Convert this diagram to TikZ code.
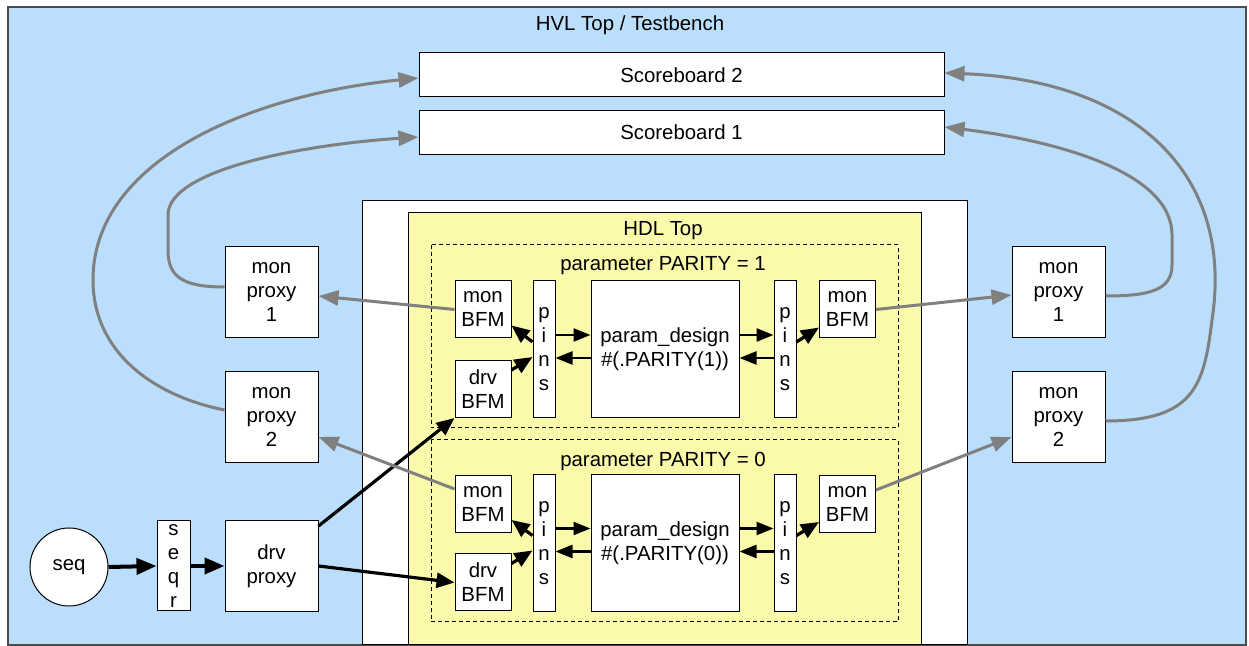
\documentclass[tikz,border=0pt]{standalone}
\usepackage{fontspec}
\setmainfont{Liberation Sans}
\usetikzlibrary{
  arrows.meta,
  positioning
}
\definecolor{hvlblue}{RGB}{186,222,252}
\definecolor{hdlyellow}{RGB}{250,250,170}
\definecolor{mongray}{RGB}{128,128,128}

\begin{document}
\begin{tikzpicture}[
  x=0.5pt,
  y=-0.5pt,
  font=\fontsize{10.2}{12}\selectfont,
  region/.style={
    draw=black!70,
    line width=0.75pt
  },
  compbox/.style={
    draw,
    line width=0.5pt,
    fill=white,
    align=center,
    inner sep=0pt
  },
  board/.style={
    compbox,
    minimum width=262.5pt,
    minimum height=22pt
  },
  proxy/.style={
    compbox,
    minimum width=46.5pt,
    minimum height=45.5pt
  },
  bfm/.style={
    compbox,
    minimum width=28pt,
    minimum height=28.5pt
  },
  pinbox/.style={
    compbox,
    minimum width=11pt,
    minimum height=68.5pt
  },
  design/.style={
    compbox,
    minimum width=74pt,
    minimum height=68.5pt
  },
  dashbox/.style={
    draw,
    line width=0.5pt,
    dash pattern=on 2pt off 1.5pt
  },
  sigarrow/.style={
    -{Triangle[length=8.5pt,width=6.5pt]},
    line width=1.2pt
  },
  drvarrow/.style={
    -{Triangle[length=9pt,width=7.5pt]},
    line width=1.6pt
  },
  seqarrow/.style={
    -{Triangle[length=10pt,width=8pt]},
    line width=2pt
  },
  monarrow/.style={
    -{Triangle[length=10pt,width=7.5pt]},
    line width=1.5pt,
    mongray
  }
]
\useasboundingbox (0,0) rectangle (1249,646);

% --- nested regions ---
\draw[region,fill=hvlblue] (8,7) rectangle (1246,645);
\draw[line width=0.5pt,fill=white] (362,201) rectangle (967,645);
\draw[line width=0.5pt,fill=hdlyellow] (408,213) rectangle (921,645);
\draw[dashbox] (431,245) rectangle (898,428);
\draw[dashbox] (431,440) rectangle (898,622);

\node (hvltitle) at (630,25) {HVL Top / Testbench};
\node (hdltitle) at (663,231) {HDL Top};
\node (par1title) at (663,266) {parameter PARITY = 1};
\node (par0title) at (663,461) {parameter PARITY = 0};

% --- scoreboards ---
\node[board] (sb2) at (681.5,75) {Scoreboard 2};
\node[board] (sb1) at (681.5,132.5) {Scoreboard 1};

% --- HVL side components ---
\node[circle,draw,fill=white,line width=0.5pt,minimum size=39pt,inner sep=0pt]
  (seq) at (69,567) {seq};
\node[compbox,minimum width=16.5pt,minimum height=45pt] (seqr) at (173.5,566)
  {s\\e\\q\\r};
\node[proxy] (drvproxy) at (271.5,566) {drv\\proxy};
\node[proxy] (monproxyL1) at (271.5,292.5) {mon\\proxy\\1};
\node[proxy] (monproxyL2) at (271.5,417.5) {mon\\proxy\\2};
\node[proxy] (monproxyR1) at (1058.5,292.5) {mon\\proxy\\1};
\node[proxy] (monproxyR2) at (1058.5,417.5) {mon\\proxy\\2};

% --- PARITY = 1 instance ---
\node[design] (design1) at (665,349.5) {param\_design\\\#(.PARITY(1))};
\node[pinbox,left=17.5pt of design1] (pinsL1) {p\\i\\n\\s};
\node[pinbox,right=17pt of design1] (pinsR1) {p\\i\\n\\s};
\node[bfm] (monbfmL1) at (483,309.5) {mon\\BFM};
\node[bfm] (drvbfm1) at (483,389) {drv\\BFM};
\node[bfm] (monbfmR1) at (847.5,309.5) {mon\\BFM};

% --- PARITY = 0 instance ---
\node[design] (design2) at (665,543) {param\_design\\\#(.PARITY(0))};
\node[pinbox,left=17.5pt of design2] (pinsL2) {p\\i\\n\\s};
\node[pinbox,right=17pt of design2] (pinsR2) {p\\i\\n\\s};
\node[bfm] (monbfmL2) at (483,504) {mon\\BFM};
\node[bfm] (drvbfm2) at (483,582.5) {drv\\BFM};
\node[bfm] (monbfmR2) at (847.5,504) {mon\\BFM};

% --- stimulus path ---
\draw[seqarrow] (seq.east) -- (seqr.west);
\draw[seqarrow] (seqr.east) -- (drvproxy.west);
\draw[drvarrow] ([yshift=-3pt]drvproxy.north east) -- (drvbfm1.south west);
\draw[drvarrow] (drvproxy.east) -- (drvbfm2.west);

% --- pin level signals, PARITY = 1 ---
\draw[drvarrow] ([yshift=3.75pt]pinsL1.west) -- ([yshift=6.5pt]monbfmL1.south east);
\draw[drvarrow] ([yshift=-5pt]drvbfm1.north east) -- ([yshift=-3.75pt]pinsL1.west);
\draw[sigarrow] ([yshift=7.25pt]pinsL1.east) -- ([yshift=7.25pt]design1.west);
\draw[sigarrow] ([yshift=-4.25pt]design1.west) -- ([yshift=-4.25pt]pinsL1.east);
\draw[sigarrow] ([yshift=7.25pt]design1.east) -- ([yshift=7.25pt]pinsR1.west);
\draw[sigarrow] ([yshift=-4.25pt]pinsR1.west) -- ([yshift=-4.25pt]design1.east);
\draw[drvarrow] ([yshift=3.75pt]pinsR1.east) -- ([yshift=5.5pt]monbfmR1.south west);

% --- pin level signals, PARITY = 0 ---
\draw[drvarrow] ([yshift=3.75pt]pinsL2.west) -- ([yshift=6.5pt]monbfmL2.south east);
\draw[drvarrow] ([yshift=-5pt]drvbfm2.north east) -- ([yshift=-3.75pt]pinsL2.west);
\draw[sigarrow] ([yshift=7.25pt]pinsL2.east) -- ([yshift=7.25pt]design2.west);
\draw[sigarrow] ([yshift=-4.25pt]design2.west) -- ([yshift=-4.25pt]pinsL2.east);
\draw[sigarrow] ([yshift=7.25pt]design2.east) -- ([yshift=7.25pt]pinsR2.west);
\draw[sigarrow] ([yshift=-4.25pt]pinsR2.west) -- ([yshift=-4.25pt]design2.east);
\draw[drvarrow] ([yshift=3.75pt]pinsR2.east) -- ([yshift=5.5pt]monbfmR2.south west);

% --- monitor BFMs to proxies ---
\draw[monarrow] (monbfmL1.west) -- ([yshift=-1.75pt]monproxyL1.east);
\draw[monarrow] ([yshift=7.5pt]monbfmL2.west) -- ([yshift=-9.75pt]monproxyL2.east);
\draw[monarrow] (monbfmR1.east) -- ([yshift=-1.25pt]monproxyR1.west);
\draw[monarrow] ([yshift=7pt]monbfmR2.east) -- ([yshift=-9.75pt]monproxyR2.west);

% --- proxies to scoreboards ---
\draw[monarrow] ([yshift=2.75pt]monproxyL1.west)
  .. controls (180,287) and (168,275) .. (168,250) -- (168,215)
  .. controls (168,170) and (300,145) .. ([yshift=-2.25pt]sb1.west);
\draw[monarrow] ([yshift=3.75pt]monproxyL2.west)
  .. controls (150,395) and (93,350) .. (93,280)
  .. controls (93,160) and (250,95) .. ([yshift=-1.5pt]sb2.west);
\draw[monarrow] ([yshift=-1.75pt]monproxyR1.east)
  .. controls (1150,296) and (1172,290) .. (1172,265) -- (1172,235)
  .. controls (1172,170) and (1050,140) .. ([yshift=2.75pt]sb1.east);
\draw[monarrow] ([yshift=-1.75pt]monproxyR2.east)
  .. controls (1195,421) and (1204,385) .. (1212,320)
  .. controls (1235,170) and (1130,80) .. ([yshift=1pt]sb2.east);

\end{tikzpicture}
\end{document}
